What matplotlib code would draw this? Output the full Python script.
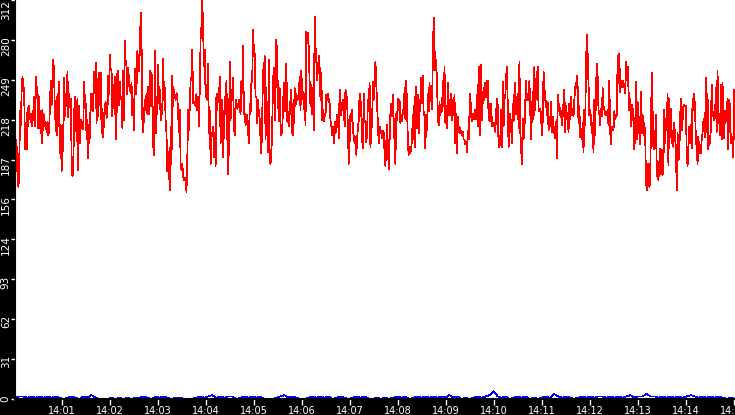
import numpy as np
import matplotlib
matplotlib.use("Agg")
import matplotlib.pyplot as plt
import matplotlib.dates as mdates
from matplotlib.transforms import ScaledTranslation

# red series in six chunks (14:00 -> 14:15)
red_part1 = [148, 203, 178, 197, 166, 173, 225, 214, 242, 252, 243, 243, 195, 213, 195, 228, 213, 229, 219, 222,
             213, 225, 218, 236, 213, 252, 235, 244, 212, 236, 212, 225, 200, 226, 210, 222, 213, 216, 209, 217,
             206, 210, 231, 249, 230, 248, 265, 255, 219, 218, 206, 239, 213, 248, 192, 214, 178, 214, 194, 251,
             221, 239, 229, 256, 220, 239, 229, 235, 190, 174, 179, 223, 236, 229, 202, 235, 179, 229, 200, 218,
             212, 216, 211, 248, 232, 231, 203, 218, 188, 214, 204, 239, 226, 239, 225, 256, 243, 263, 216, 250,
             221, 255, 230, 255, 208, 227, 205, 220, 230, 232, 220, 222, 253, 238, 269, 257, 257, 221, 243, 242,
             252, 203, 254, 224, 257, 230, 248, 235, 234, 212, 257, 218, 280, 263, 260, 238, 259, 249, 243, 239,
             247, 222, 235, 210, 258, 238]
red_part2 = [243, 272, 264, 256, 273, 302, 281, 219, 209, 223, 234, 226, 239, 223, 244, 223, 257, 229, 255, 244,
             199, 191, 272, 208, 236, 223, 261, 231, 242, 218, 221, 229, 266, 234, 243, 217, 208, 178, 193, 179,
             163, 213, 184, 253, 229, 242, 236, 234, 239, 236, 223, 209, 226, 183, 179, 184, 174, 171, 173, 170,
             162, 187, 226, 210, 230, 249, 252, 273, 231, 232, 231, 229, 239, 226, 236, 213, 244, 282, 291, 312,
             289, 260, 273, 236, 246, 234, 262, 208, 225, 184, 208, 206, 213, 189, 208, 182, 239, 226, 239, 234,
             252, 200, 222, 234, 189, 214, 236, 223, 249, 208, 176, 199, 264, 218, 242, 234, 251, 214, 206, 234,
             230, 227, 229, 234, 229, 223, 249, 239, 276, 223, 223, 214, 221, 222, 210, 200, 231, 223, 247, 249,
             289, 272]
red_part3 = [270, 236, 236, 216, 234, 223, 219, 203, 192, 221, 257, 256, 268, 203, 243, 209, 193, 265, 187, 184,
             192, 213, 249, 259, 218, 239, 281, 265, 234, 217, 243, 212, 206, 210, 229, 247, 225, 234, 262, 217,
             219, 213, 232, 223, 242, 208, 206, 219, 243, 229, 239, 234, 235, 239, 252, 226, 257, 239, 240, 227,
             239, 214, 287, 278, 286, 273, 247, 229, 246, 223, 243, 210, 299, 276, 264, 249, 259, 268, 259, 234,
             255, 218, 226, 217, 223, 221, 238, 234, 239, 234, 231, 218, 214, 206, 213, 200, 217, 208, 209, 222,
             221, 204, 242, 226, 222, 231, 234, 229, 213, 242, 238, 234, 209, 184, 201, 223, 217, 226, 210, 205,
             200, 205, 191, 203, 213, 218, 239, 221, 232, 203, 196, 239, 218, 216, 201, 208, 234, 231, 247, 197,
             210, 216, 248, 234]
red_part4 = [248, 264, 247, 229, 214, 200, 213, 208, 210, 204, 210, 208, 192, 182, 200, 214, 197, 180, 203, 223,
             231, 221, 238, 217, 200, 184, 223, 218, 235, 226, 234, 216, 222, 217, 226, 223, 243, 219, 249, 229,
             200, 191, 197, 192, 196, 204, 222, 203, 236, 197, 244, 212, 238, 208, 234, 225, 251, 231, 253, 222,
             223, 196, 222, 210, 239, 225, 247, 234, 234, 227, 268, 298, 274, 257, 265, 247, 221, 214, 232, 222,
             229, 225, 249, 229, 260, 216, 229, 212, 247, 222, 234, 222, 239, 218, 234, 222, 238, 200, 223, 192,
             221, 209, 213, 208, 210, 206, 209, 203, 203, 199, 201, 193, 210, 203, 223, 239, 221, 217, 223, 219,
             222, 226, 219, 238, 213, 260, 244, 206, 261, 218, 234, 243, 234, 247, 236, 249, 249, 218, 231, 217,
             231, 214, 213, 216, 214, 209, 223, 235, 229, 197]
red_part5 = [197, 203, 226, 197, 248, 213, 238, 235, 252, 260, 229, 197, 216, 223, 213, 200, 231, 217, 239, 247,
             223, 234, 239, 212, 264, 210, 197, 184, 219, 203, 210, 231, 249, 234, 238, 234, 249, 226, 203, 223,
             240, 219, 260, 226, 243, 252, 260, 226, 225, 227, 222, 206, 218, 256, 244, 234, 232, 222, 232, 210,
             221, 213, 232, 209, 221, 208, 213, 204, 217, 188, 238, 225, 231, 222, 225, 214, 230, 221, 242, 209,
             229, 222, 217, 209, 231, 219, 236, 222, 227, 221, 234, 244, 243, 253, 244, 216, 229, 205, 209, 203,
             216, 193, 226, 214, 261, 285, 269, 247, 222, 226, 219, 208, 216, 193, 234, 206, 242, 262, 252, 226,
             223, 214, 227, 221, 243, 229, 227, 223, 222, 223, 226, 214, 249, 210, 199, 213, 212, 210, 225, 219,
             221, 222, 268, 247, 270, 240, 249, 244, 249, 244]
red_part6 = [244, 239, 264, 249, 260, 242, 226, 235, 213, 230, 218, 227, 195, 206, 248, 203, 232, 208, 221, 199,
             240, 208, 222, 219, 206, 212, 171, 163, 184, 180, 166, 169, 212, 255, 225, 196, 195, 203, 222, 174,
             186, 171, 184, 196, 176, 195, 175, 182, 226, 200, 219, 210, 239, 183, 235, 205, 227, 200, 210, 197,
             216, 204, 197, 163, 208, 187, 188, 218, 235, 210, 218, 229, 230, 229, 229, 191, 182, 197, 213, 200,
             214, 196, 235, 226, 239, 226, 203, 197, 184, 205, 193, 192, 192, 203, 208, 217, 219, 205, 251, 209,
             239, 195, 206, 200, 212, 246, 225, 221, 218, 221, 243, 209, 257, 216, 223, 206, 246, 203, 247, 225,
             204, 225, 218, 217, 235, 195, 234, 229, 200, 205, 200, 189, 242, 203]

# blue series (near zero), two halves
blue_part1 = [1, 2, 2, 1, 2, 1, 2, 1, 2, 1, 2, 1, 0, 1, 2, 1, 0, 2, 1, 3, 1, 0, 0, 0, 1, 0, 1, 0, 1, 0,
              1, 1, 2, 1, 0, 2, 1, 2, 1, 0, 1, 1, 0, 0, 0, 1, 2, 1, 2, 3, 1, 2, 1, 2, 2, 0, 1, 2, 1, 2,
              1, 2, 0, 0, 0, 1, 2, 3, 1, 2, 1, 0, 0, 1, 2, 1, 2, 1, 2, 0, 1, 2, 1, 0, 1, 2, 1, 2, 0, 0]
blue_part2 = [1, 0, 1, 0, 1, 2, 1, 2, 0, 1, 2, 1, 2, 1, 2, 1, 2, 1, 3, 1, 2, 0, 1, 0, 1, 2, 1, 2, 3, 6,
              2, 1, 2, 0, 1, 2, 1, 2, 0, 1, 0, 1, 2, 1, 4, 2, 1, 2, 1, 0, 1, 2, 1, 2, 1, 2, 2, 1, 2, 1,
              2, 1, 2, 3, 1, 2, 2, 4, 2, 2, 1, 2, 1, 2, 1, 2, 1, 2, 3, 2, 1, 2, 1, 2, 1, 2, 1, 0, 1, 0]

y_max = 312
y_tick_count = 10
t_start = np.datetime64("2024-01-01T14:00:01", "ms")
t_end = np.datetime64("2024-01-01T14:15:01", "ms")


def sample_times(n):
    span = (t_end - t_start).astype(np.int64)
    return t_start + np.linspace(0, span, n).astype(np.int64).astype("timedelta64[ms]")


red = np.array(red_part1 + red_part2 + red_part3 + red_part4 + red_part5 + red_part6, dtype=float)
blue = np.array(blue_part1 + blue_part2, dtype=float)

fig = plt.figure(figsize=(7.35, 4.15), dpi=100, facecolor="black")
ax = fig.add_axes([15 / 735, 16 / 415, 720 / 735, 399 / 415])
ax.set_facecolor("white")

ax.plot(sample_times(len(red)), red, color="#ff0000", lw=0.55, antialiased=False)
ax.plot(sample_times(len(blue)), blue, color="#0000ff", lw=0.55, antialiased=False)

ax.set_xlim(t_start, t_end)
ax.set_ylim(0, y_max)

yt = [y_max * i / y_tick_count for i in range(y_tick_count + 1)]
ax.set_yticks(yt)
ax.set_yticklabels([str(int(v + 1e-9)) for v in yt], rotation=90, va="top")

ax.xaxis.set_major_locator(mdates.MinuteLocator())
ax.xaxis.set_major_formatter(mdates.DateFormatter("%H:%M"))

ax.tick_params(axis="both", colors="white", length=4, width=1, pad=1)
ax.tick_params(axis="x", labelsize=7)
ax.tick_params(axis="y", labelsize=7.5, length=3, pad=0)

# label ends a few px above its tick (top one stays inside the figure)
for i, lab in enumerate(ax.get_yticklabels()):
    if i < y_tick_count:
        lab.set_transform(lab.get_transform() + ScaledTranslation(0, 4 / 100, fig.dpi_scale_trans))

for side in ["top", "right"]:
    ax.spines[side].set_visible(False)
ax.spines["left"].set_color("black")
ax.spines["bottom"].set_color("black")
ax.spines["bottom"].set_linewidth(1.5)
ax.spines["bottom"].set_zorder(5)

fig.savefig("out.png", dpi=100, facecolor="black")
